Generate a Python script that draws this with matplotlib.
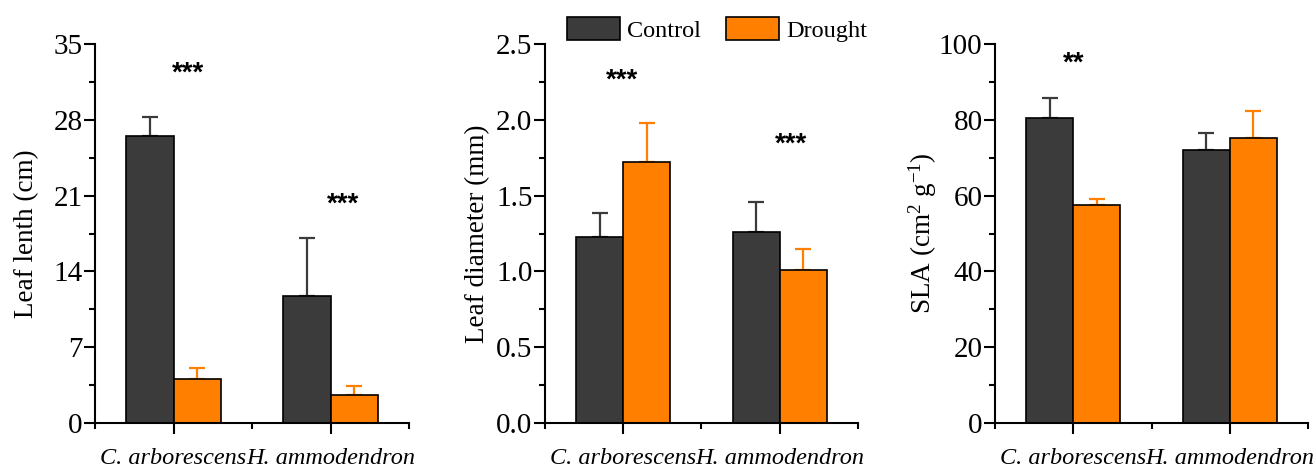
import numpy as np
import matplotlib
matplotlib.use("Agg")
import matplotlib.pyplot as plt
from matplotlib.patches import Patch
from matplotlib.ticker import MultipleLocator

plt.rcParams['font.family'] = 'Liberation Serif'
plt.rcParams['mathtext.default'] = 'regular'

species = ['C. arborescens', 'H. ammodendron']

# leaf length (cm)
length_ctrl = [26.5, 11.7]
length_ctrl_err = [1.8, 5.4]
length_drought = [4.0, 2.6]
length_drought_err = [1.1, 0.75]

# leaf diameter (mm)
diam_ctrl = [1.225, 1.26]
diam_ctrl_err = [0.16, 0.2]
diam_drought = [1.72, 1.01]
diam_drought_err = [0.26, 0.135]

# SLA (cm2 g-1)
sla_ctrl = [80.4, 72.1]
sla_ctrl_err = [5.4, 4.5]
sla_drought = [57.5, 75.3]
sla_drought_err = [1.5, 7.2]

# significance marks: (x, y, text)
length_sig = [(1.09, 32.3, '***'), (2.08, 20.2, '***')]
diam_sig = [(0.99, 2.26, '***'), (2.07, 1.84, '***')]
sla_sig = [(1.0, 95.0, '**')]

ctrl_color = '#3b3b3b'
drought_color = '#ff7f00'

fig = plt.figure(figsize=(13.16, 4.68), dpi=100)

panels = [
    dict(rect=[0.0722, 0.0968, 0.2386, 0.8085], ctrl=length_ctrl, ctrl_err=length_ctrl_err,
         dr=length_drought, dr_err=length_drought_err, ymax=35, major=7, minor=3.5,
         ylabel='Leaf lenth (cm)', fmt='{:.0f}', sig=length_sig, lpad=10),
    dict(rect=[0.4141, 0.0968, 0.2379, 0.8085], ctrl=diam_ctrl, ctrl_err=diam_ctrl_err,
         dr=diam_drought, dr_err=diam_drought_err, ymax=2.5, major=0.5, minor=0.25,
         ylabel='Leaf diameter (mm)', fmt='{:.1f}', sig=diam_sig, lpad=4),
    dict(rect=[0.7561, 0.0968, 0.2378, 0.8085], ctrl=sla_ctrl, ctrl_err=sla_ctrl_err,
         dr=sla_drought, dr_err=sla_drought_err, ymax=100, major=20, minor=10,
         ylabel='SLA (cm$^{2}$ g$^{-1}$)', fmt='{:.0f}', sig=sla_sig, lpad=0),
]

x = np.array([1, 2])
w = 0.3

for p in panels:
    ax = fig.add_axes(p['rect'])
    ax.bar(x - w / 2, p['ctrl'], w, color=ctrl_color, edgecolor='black', linewidth=1.2, zorder=2)
    ax.bar(x + w / 2, p['dr'], w, color=drought_color, edgecolor='black', linewidth=1.2, zorder=2)
    ax.errorbar(x - w / 2, p['ctrl'], yerr=[np.zeros(2), p['ctrl_err']], fmt='none',
                ecolor=ctrl_color, elinewidth=1.6, capsize=5.5, capthick=1.6, zorder=1)
    ax.errorbar(x + w / 2, p['dr'], yerr=[np.zeros(2), p['dr_err']], fmt='none',
                ecolor=drought_color, elinewidth=1.6, capsize=5.5, capthick=1.6, zorder=1)

    ax.set_xlim(0.5, 2.5)
    ax.set_ylim(0, p['ymax'])
    ax.spines['top'].set_visible(False)
    ax.spines['right'].set_visible(False)
    ax.spines['left'].set_linewidth(1.5)
    ax.spines['bottom'].set_linewidth(1.5)

    ax.yaxis.set_minor_locator(MultipleLocator(p['minor']))
    ticks = np.arange(0, p['ymax'] + p['major'] / 2, p['major'])
    ax.set_yticks(ticks)
    ax.set_yticklabels([p['fmt'].format(t) for t in ticks], fontsize=21)

    ax.set_xticks(x)
    ax.set_xticklabels(species, style='italic', fontsize=17.5)
    ax.xaxis.set_minor_locator(MultipleLocator(0.5))

    ax.tick_params(axis='both', which='major', direction='out', length=8, width=1.5)
    ax.tick_params(axis='both', which='minor', direction='out', length=4, width=1.5)
    ax.tick_params(axis='y', which='major', pad=1)
    ax.tick_params(axis='x', which='major', pad=10)
    ax.set_ylabel(p['ylabel'], fontsize=19.5, labelpad=p['lpad'])

    for sx, sy, s in p['sig']:
        ax.text(sx, sy, s, ha='center', va='center', fontsize=20, fontweight='bold',
                family='Liberation Sans')

handles = [Patch(facecolor=ctrl_color, edgecolor='black', linewidth=1.2, label='Control'),
           Patch(facecolor=drought_color, edgecolor='black', linewidth=1.2, label='Drought')]
fig.legend(handles=handles, loc='center left', bbox_to_anchor=(0.4306, 0.9365), ncol=2,
           frameon=False, fontsize=17.5, handlelength=2.2, handleheight=1.07,
           handletextpad=0.3, columnspacing=1.0, borderpad=0, borderaxespad=0)

fig.savefig('out.png', dpi=100)
